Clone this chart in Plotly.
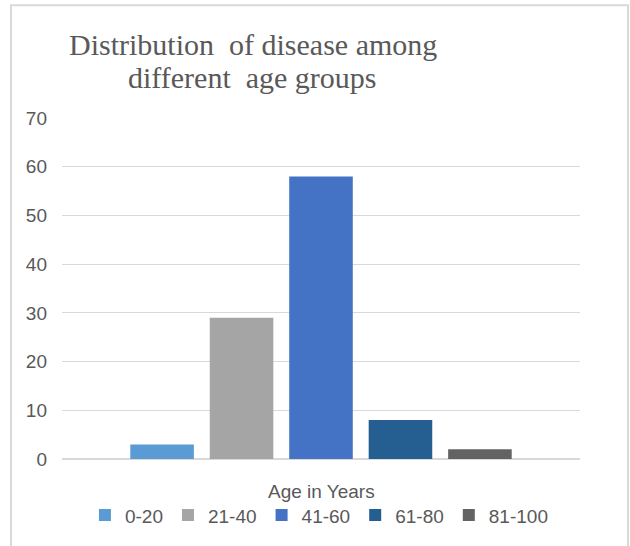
import plotly.graph_objects as go

age_groups = ["0-20", "21-40", "41-60", "61-80", "81-100"]
counts = [3, 29, 58, 8, 2]
colors = ["#5B9BD5", "#A5A5A5", "#4472C4", "#255E91", "#636363"]
y_ticks = [0, 10, 20, 30, 40, 50, 60, 70]
title_lines = ["Distribution  of disease among", "different  age groups"]
x_title = "Age in Years"

fig = go.Figure()
for name, val, col in zip(age_groups, counts, colors):
    fig.add_trace(go.Bar(x=[" "], y=[val], name=name, marker=dict(color=col, line=dict(width=0))))

fig.update_layout(
    width=630, height=546,
    margin=dict(l=62, r=50, t=118, b=87),
    paper_bgcolor="white", plot_bgcolor="white",
    barmode="group", bargap=0.233, bargroupgap=0.2,
    showlegend=True,
    legend=dict(orientation="h", x=0.497, xanchor="center", y=-0.165, yanchor="middle",
                font=dict(family="Liberation Sans", size=19, color="#595959"),
                bgcolor="rgba(0,0,0,0)", itemwidth=30),
    font=dict(family="Liberation Sans", color="#595959"),
)
fig.update_xaxes(showticklabels=False, showgrid=False, showline=False, zeroline=False)
fig.update_yaxes(range=[0, 70], tickvals=y_ticks, showgrid=True, gridcolor="#D9D9D9", gridwidth=1,
                 zeroline=True, zerolinecolor="#D9D9D9", zerolinewidth=2, showline=False,
                 tickfont=dict(family="Liberation Sans", size=19, color="#595959"),
                 ticklabelstandoff=14)

for line, ypos in zip(title_lines, [1.217, 1.118]):
    fig.add_annotation(text=line, xref="paper", yref="paper", x=0.368, y=ypos,
                       xanchor="center", yanchor="middle", showarrow=False, align="center",
                       font=dict(family="Liberation Serif", size=30, color="#595959"))
fig.add_annotation(text=x_title, xref="paper", yref="paper", x=0.5, y=-0.096,
                   xanchor="center", yanchor="middle", showarrow=False,
                   font=dict(family="Liberation Sans", size=19, color="#595959"))
fig.add_shape(type="rect", xref="paper", yref="paper", x0=-0.0985, x1=1.0927, y0=-0.32, y1=1.331,
              line=dict(color="#D9D9D9", width=2), fillcolor="rgba(0,0,0,0)", layer="below")

fig.write_html("out.html", config={"displayModeBar": False},
               post_script="document.body.style.margin='0';document.body.style.overflow='hidden';")
